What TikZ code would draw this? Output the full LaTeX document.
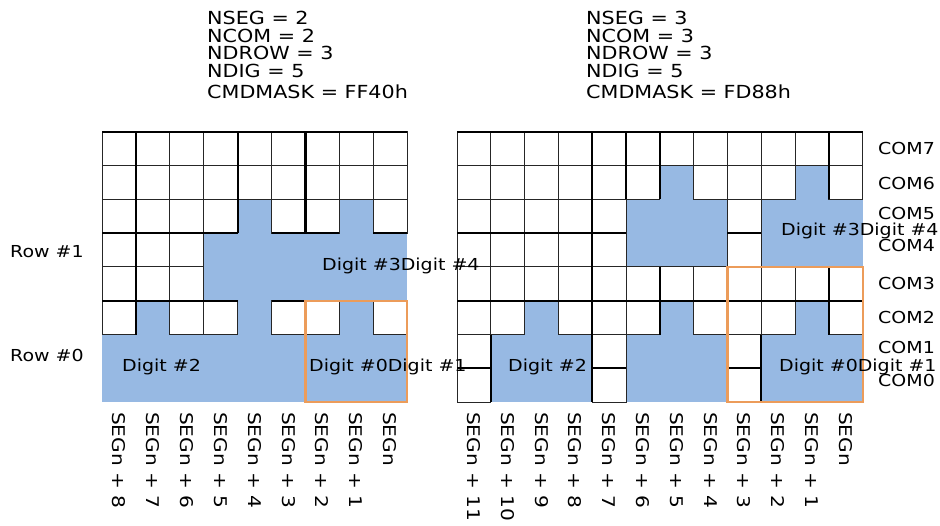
\documentclass[tikz,border=0pt]{standalone}
\usepackage{fontspec}
\setmainfont{DejaVu Sans}[FakeStretch=1.15]
\begin{document}
\begin{tikzpicture}[x=1pt,y=-1pt,
  txt/.style={font=\fontsize{16.5}{17}\selectfont,inner sep=0pt},
  htxt/.style={font=\fontsize{18}{17.5}\selectfont,inner sep=0pt,anchor=north west,align=left},
  seg/.style={txt,font=\fontsize{17.5}{17}\selectfont,rotate=-90,anchor=west},
  cellb/.style={fill=white,draw=black!85,line width=1pt},
  thk/.style={line width=2.2pt,black},
  orng/.style={draw={rgb,255:red,236;green,156;blue,90},line width=2.2pt}]
\definecolor{segblue}{RGB}{151,185,227}
\useasboundingbox (0,0) rectangle (940,525);
% header texts
\node[htxt] (h1) at (207,11) {NSEG = 2\\NCOM = 2\\NDROW = 3\\NDIG = 5\\[4pt]CMDMASK = FF40h};
\node[htxt] (h2) at (586,11) {NSEG = 3\\NCOM = 3\\NDROW = 3\\NDIG = 5\\[4pt]CMDMASK = FD88h};
% left grid
\begin{scope}[shift={(102,131.7)},x=33.9pt,y=-33.8pt]
  \fill[segblue] (0,0) rectangle (9,8);
  \foreach \r/\cs in {0/{0,...,8},1/{0,...,8},2/{0,1,2,3,5,6,8},3/{0,1,2},4/{0,1,2},5/{0,2,3,5,6,8}}
    \foreach \c in \cs \draw[cellb] (\c,\r) rectangle +(1,1);
  \draw[thk] (0,0) -- (9,0);
  \draw[thk] (1,0) -- (1,6) (4,0) -- (4,3) (6,0) -- (6,3);
  \draw[thk] (0,3) -- (4,3) (5,3) -- (7,3) (8,3) -- (9,3) (0,5) -- (4,5) (5,5) -- (9,5);
  \draw[orng] (6,5) rectangle (9,8);
\end{scope}
% right grid
\begin{scope}[shift={(457,131.7)},x=33.8pt,y=-33.8pt]
  \fill[segblue] (0,0) rectangle (12,8);
  \foreach \r/\cs in {0/{0,...,11},1/{0,1,2,3,4,5,7,8,9,11},2/{0,1,2,3,4,8},3/{0,1,2,3,4,8},4/{0,...,11},5/{0,1,3,4,5,7,8,9,11},6/{0,4,8},7/{0,4,8}}
    \foreach \c in \cs \draw[cellb] (\c,\r) rectangle +(1,1);
  \draw[thk] (0,0) -- (12,0);
  \draw[thk] (4,0) -- (4,8) (5,0) -- (5,2) (6,0) -- (6,2) (11,0) -- (11,2);
  \draw[thk] (0,3) -- (5,3) (8,3) -- (9,3) (0,5) -- (12,5);
  \draw[thk] (6,4) -- (6,6) (11,4) -- (11,6) (1,6) -- (1,8) (9,6) -- (9,8);
  \draw[thk] (0,7) -- (1,7) (4,7) -- (5,7) (8,7) -- (9,7);
  \draw[orng] (8,4) rectangle (12,8);
\end{scope}
% labels
\node[txt,anchor=west] (r1) at (10,252) {Row \#1};
\node[txt,anchor=west] (r0) at (10,355) {Row \#0};
\node[txt,anchor=west] (ld2) at (122,367) {Digit \#2};
\node[txt,anchor=west] (ld01) at (309,367) {Digit \#0Digit \#1};
\node[txt,anchor=west] (ld34) at (322,266) {Digit \#3Digit \#4};
\node[txt,anchor=west] (rd2) at (508,367) {Digit \#2};
\node[txt,anchor=west] (rd01) at (779,367) {Digit \#0Digit \#1};
\node[txt,anchor=west] (rd34) at (781,231) {Digit \#3Digit \#4};
\foreach \n/\y in {7/148,6/183,5/213,4/245,3/283,2/317,1/347,0/380}
  \node[txt,anchor=west] (com\n) at (878,\y) {COM\n};
\foreach \i in {0,...,8}{
  \pgfmathtruncatemacro{\k}{8-\i}
  \ifnum\k=0 \def\lab{SEGn}\else \edef\lab{SEGn + \k}\fi
  \node[seg] (ls\i) at (102+33.9*\i+16.9,412) {\lab};}
\foreach \i in {0,...,11}{
  \pgfmathtruncatemacro{\k}{11-\i}
  \ifnum\k=0 \def\lab{SEGn}\else \edef\lab{SEGn + \k}\fi
  \node[seg] (rs\i) at (457+33.8*\i+16.9,412) {\lab};}
\end{tikzpicture}
\end{document}
